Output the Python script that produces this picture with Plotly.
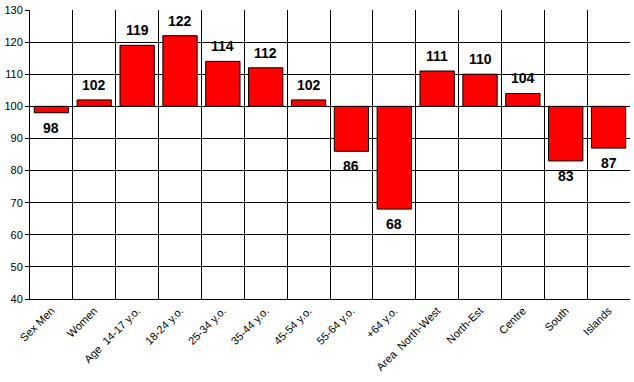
import plotly.graph_objects as go

categories = ["Sex Men", "Women", "Age  14-17 y.o.", "18-24 y.o.", "25-34 y.o.", "35-44 y.o.",
              "45-54 y.o.", "55-64 y.o.", "+64 y.o.", "Area  North-West", "North-Est",
              "Centre", "South", "Islands"]
values = [98, 102, 119, 122, 114, 112, 102, 86, 68, 111, 110, 104, 83, 87]
baseline = 100

fig = go.Figure(go.Bar(
    x=categories,
    y=[v - baseline for v in values],
    base=baseline,
    marker=dict(color="#ff0000", line=dict(color="black", width=1)),
    width=0.8,
    hoverinfo="skip",
))

for c, v in zip(categories, values):
    up = v >= baseline
    fig.add_annotation(
        x=c, y=v, text=str(v), showarrow=False,
        yanchor="bottom" if up else "top",
        yshift=5 if up else -5,
        font=dict(family="Liberation Sans, Arial", size=14, color="black", weight="bold"),
    )

fig.update_layout(
    width=634, height=382,
    margin=dict(l=25, r=4, t=7, b=83),
    paper_bgcolor="white", plot_bgcolor="white",
    font=dict(family="Liberation Sans, Arial", size=11, color="black"),
    showlegend=False,
)
fig.update_xaxes(
    type="category", tickson="boundaries", tickangle=-45,
    showgrid=True, gridcolor="black", gridwidth=1,
    showline=True, linecolor="black", linewidth=1, mirror=False,
    ticks="", tickfont=dict(size=11), range=[-0.5, len(categories) - 0.5],
)
fig.update_yaxes(
    range=[40, 130], dtick=10, tick0=40,
    showgrid=True, gridcolor="black", gridwidth=1,
    showline=True, linecolor="black", linewidth=1,
    ticks="outside", ticklen=4, tickcolor="black", tickfont=dict(size=11),
    zeroline=False,
)

fig.write_html("out.html")
